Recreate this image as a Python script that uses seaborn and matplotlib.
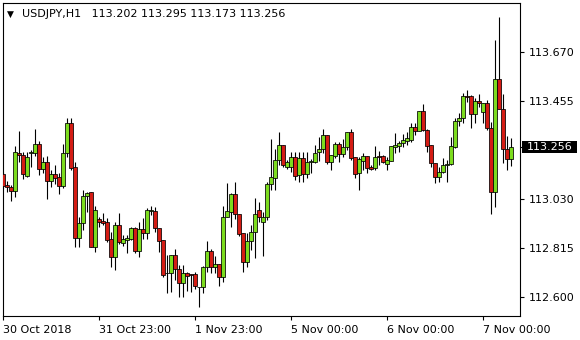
import matplotlib
matplotlib.use("Agg")
import matplotlib.pyplot as plt
import matplotlib.transforms as mtransforms
from matplotlib.patches import Rectangle
import seaborn as sns
import numpy as np
import pandas as pd

# ---- data (USDJPY H1 candles) ----
opens = [113.138, 113.090, 113.080, 113.062, 113.230, 113.222, 113.131, 113.229, 113.229, 113.269,
         113.161, 113.189, 113.109, 113.137, 113.125, 113.084, 113.229, 113.360, 113.167, 112.857,
         112.923, 113.043, 113.058, 112.820, 112.940, 112.933, 112.927, 112.852, 112.776, 112.915,
         112.837, 112.848, 112.852, 112.901, 112.802, 112.896, 112.879, 112.977, 112.976, 112.901,
         112.849, 112.705, 112.706, 112.784, 112.721, 112.663, 112.704, 112.699, 112.699, 112.644,
         112.642, 112.731, 112.801, 112.730, 112.744, 112.689, 112.951, 112.973, 113.051, 112.962,
         112.879, 112.754, 112.846, 112.883, 112.980, 112.930, 112.949, 113.094, 113.119, 113.199,
         113.265, 113.170, 113.167, 113.211, 113.134, 113.207, 113.138, 113.189, 113.189, 113.233,
         113.246, 113.309, 113.189, 113.218, 113.269, 113.226, 113.255, 113.320, 113.211, 113.141,
         113.196, 113.217, 113.167, 113.163, 113.217, 113.217, 113.180, 113.196, 113.257, 113.262,
         113.275, 113.284, 113.287, 113.345, 113.327, 113.414, 113.331, 113.265, 113.188, 113.126,
         113.146, 113.176, 113.180, 113.257, 113.370, 113.382, 113.479, 113.479, 113.399, 113.459,
         113.410, 113.447, 113.338, 113.061, 113.552, 113.422, 113.246, 113.202]
highs = [113.148, 113.107, 113.090, 113.261, 113.326, 113.233, 113.233, 113.243, 113.335, 113.282,
         113.214, 113.216, 113.156, 113.177, 113.141, 113.271, 113.382, 113.382, 113.192, 112.951,
         113.068, 113.059, 113.059, 112.999, 112.951, 112.966, 112.944, 112.886, 112.930, 112.966,
         112.871, 112.870, 112.908, 112.908, 112.930, 112.944, 112.988, 112.998, 112.992, 112.901,
         112.849, 112.784, 112.784, 112.810, 112.740, 112.740, 112.708, 112.700, 112.711, 112.645,
         112.737, 112.845, 112.810, 112.780, 112.744, 112.998, 113.100, 113.056, 113.104, 112.962,
         112.879, 112.879, 112.915, 113.032, 113.017, 112.973, 113.103, 113.290, 113.246, 113.320,
         113.265, 113.199, 113.236, 113.236, 113.236, 113.236, 113.233, 113.204, 113.265, 113.299,
         113.334, 113.309, 113.221, 113.279, 113.279, 113.290, 113.320, 113.334, 113.211, 113.214,
         113.231, 113.217, 113.177, 113.261, 113.239, 113.221, 113.211, 113.261, 113.319, 113.284,
         113.313, 113.323, 113.362, 113.360, 113.414, 113.444, 113.334, 113.265, 113.188, 113.167,
         113.207, 113.199, 113.301, 113.382, 113.406, 113.491, 113.505, 113.484, 113.469, 113.488,
         113.450, 113.462, 113.367, 113.724, 113.823, 113.488, 113.304, 113.295]
lows = [113.077, 113.058, 113.020, 113.036, 113.192, 113.118, 113.126, 113.170, 113.217, 113.134,
        113.141, 113.027, 113.080, 113.094, 113.049, 113.077, 113.214, 113.156, 112.820, 112.817,
        112.893, 112.973, 112.819, 112.798, 112.905, 112.915, 112.842, 112.730, 112.718, 112.832,
        112.823, 112.791, 112.849, 112.794, 112.774, 112.854, 112.854, 112.959, 112.883, 112.798,
        112.689, 112.619, 112.623, 112.674, 112.601, 112.601, 112.627, 112.621, 112.634, 112.555,
        112.619, 112.711, 112.706, 112.704, 112.649, 112.667, 112.951, 112.908, 112.941, 112.867,
        112.711, 112.733, 112.805, 112.769, 112.928, 112.779, 112.937, 113.068, 113.068, 113.177,
        113.167, 113.160, 113.148, 113.112, 113.104, 113.104, 113.122, 113.141, 113.185, 113.196,
        113.229, 113.180, 113.156, 113.207, 113.192, 113.214, 113.243, 113.199, 113.122, 113.068,
        113.156, 113.141, 113.156, 113.156, 113.177, 113.185, 113.156, 113.196, 113.229, 113.236,
        113.257, 113.265, 113.279, 113.309, 113.327, 113.327, 113.236, 113.167, 113.097, 113.104,
        113.141, 113.104, 113.177, 113.250, 113.348, 113.360, 113.454, 113.338, 113.360, 113.432,
        113.360, 113.331, 112.963, 112.995, 113.422, 113.185, 113.156, 113.173]
closes = [113.086, 113.080, 113.062, 113.233, 113.220, 113.137, 113.212, 113.236, 113.269, 113.161,
          113.189, 113.109, 113.138, 113.122, 113.087, 113.230, 113.360, 113.166, 112.857, 112.923,
          113.043, 113.055, 112.820, 112.980, 112.930, 112.923, 112.849, 112.776, 112.915, 112.842,
          112.852, 112.859, 112.901, 112.801, 112.896, 112.879, 112.980, 112.980, 112.901, 112.846,
          112.696, 112.704, 112.784, 112.721, 112.663, 112.704, 112.693, 112.696, 112.648, 112.642,
          112.731, 112.801, 112.731, 112.744, 112.689, 112.951, 112.976, 113.051, 112.962, 112.875,
          112.754, 112.846, 112.883, 112.962, 112.950, 112.949, 113.094, 113.126, 113.199, 113.265,
          113.177, 113.189, 113.211, 113.131, 113.207, 113.137, 113.192, 113.195, 113.229, 113.246,
          113.309, 113.189, 113.221, 113.269, 113.226, 113.255, 113.320, 113.209, 113.137, 113.202,
          113.217, 113.163, 113.159, 113.211, 113.211, 113.192, 113.199, 113.261, 113.265, 113.275,
          113.287, 113.294, 113.345, 113.327, 113.414, 113.331, 113.262, 113.188, 113.126, 113.146,
          113.177, 113.182, 113.261, 113.370, 113.384, 113.479, 113.474, 113.399, 113.459, 113.447,
          113.450, 113.338, 113.061, 113.552, 113.422, 113.246, 113.202, 113.256]

symbol = "USDJPY,H1"
time_labels = ["30 Oct 2018", "31 Oct 23:00", "1 Nov 23:00", "5 Nov 00:00", "6 Nov 00:00", "7 Nov 00:00"]
time_label_bars = [0, 24, 48, 72, 96, 120]
price_ticks = [112.600, 112.815, 113.030, 113.455, 113.670]
last_price = closes[-1]

# ---- style ----
sns.set_theme(style="white")
plt.rcParams['font.family'] = ['DejaVu Sans']

df = pd.DataFrame({"open": opens, "high": highs, "low": lows, "close": closes})
df["bar"] = np.arange(len(df))
df["up"] = df["close"] >= df["open"]

W, H = 580, 340
fig = plt.figure(figsize=(W / 100, H / 100), dpi=100)
fig.patch.set_facecolor("white")
ax = fig.add_axes([2.5 / W, 1 - 315.5 / H, 517.5 / W, 313 / H])
ax.set_facecolor("white")

# wicks
ax.vlines(df["bar"].to_numpy(), df["low"].to_numpy(), df["high"].to_numpy(),
          color="black", linewidth=0.8, zorder=2)
# bodies
body_bottom = np.minimum(df["open"].to_numpy(), df["close"].to_numpy())
body_h = np.abs(df["close"].to_numpy() - df["open"].to_numpy())
colors = ["#7cdc1e" if u else "#d41c14" for u in df["up"]]
ax.bar(df["bar"].to_numpy(), body_h, bottom=body_bottom, width=0.78, color=colors,
       edgecolor="black", linewidth=0.55, zorder=3)

ax.set_xlim(-0.125, 129.25)
ax.set_ylim(112.519, 113.888)

for s in ax.spines.values():
    s.set_color("black")
    s.set_linewidth(0.8)

# y axis on the right
ax.yaxis.tick_right()
ax.set_yticks(price_ticks + [last_price])
ax.set_yticklabels([f"{p:.3f}" for p in price_ticks] + [""])
ax.tick_params(axis="y", which="both", right=True, left=False, direction="out",
               length=3, width=0.8, pad=3, labelsize=8, colors="black")

# x axis
ax.set_xticks(time_label_bars)
ax.set_xticklabels(time_labels)
ax.tick_params(axis="x", which="both", bottom=True, direction="out",
               length=3, width=0.8, pad=4, labelsize=8, colors="black")
for lbl in ax.get_xticklabels():
    lbl.set_horizontalalignment("left")

# current price box
trans = mtransforms.blended_transform_factory(fig.transFigure, ax.transData)
box_h = 12.3 * (113.888 - 112.519) / 313
ax.add_artist(Rectangle((522 / W, last_price - box_h / 2), 55 / W, box_h,
                        transform=trans, facecolor="black", edgecolor="none",
                        clip_on=False, zorder=10))
ax.text(527 / W, last_price, f"{last_price:.3f}", transform=trans, color="white",
        fontsize=8, va="center", ha="left", zorder=11, clip_on=False)

# header
fig.text(6.5 / W, 1 - 17.3 / H, "\u25bc", fontsize=6.5, color="black", va="baseline")
fig.text(21.7 / W, 1 - 17.3 / H,
         f"{symbol}   {opens[-1]:.3f} {highs[-1]:.3f} {lows[-1]:.3f} {closes[-1]:.3f}",
         fontsize=8, color="black", va="baseline")

fig.savefig("out.png", dpi=100, facecolor="white")
